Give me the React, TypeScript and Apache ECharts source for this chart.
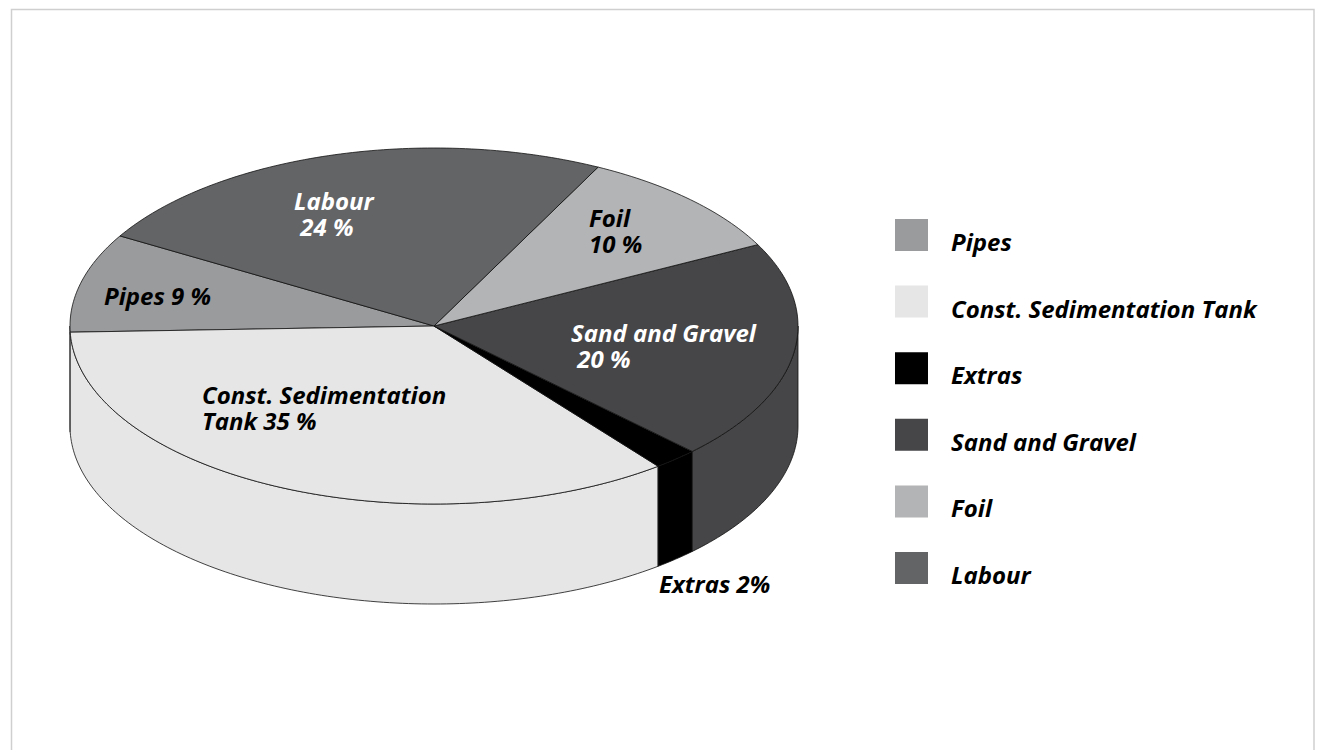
import React, { useEffect, useRef } from "react";
import * as echarts from "echarts";

// ---- data ----
const categories = [
  "Pipes",
  "Const. Sedimentation Tank",
  "Extras",
  "Sand and Gravel",
  "Foil",
  "Labour",
];
const shares = [9, 35, 2, 20, 10, 24];
const sliceLabels = [
  "Pipes 9 %",
  "Const. Sedimentation\nTank 35 %",
  "Extras 2%",
  "Sand and Gravel\n 20 %",
  "Foil\n10 %",
  "Labour\n 24 %",
];
const sliceColors = ["#9a9b9d", "#e6e6e6", "#000000", "#464648", "#b3b4b6", "#636466"];
const labelColors = ["#000000", "#000000", "#000000", "#ffffff", "#000000", "#ffffff"];

// ---- layout (not data) ----
const CX = 434;
const CY = 326;
const RX = 364;
const RY = 178;
const DEPTH = 100;
const START_DEG = 149.6;
const FONT = "'Open Sans', sans-serif";
const FONT_SIZE = 24;
const LINE_H = 26;
// label anchor: left x and vertical centre of first line, relative to pie centre
const labelAnchors: [number, number][] = [
  [-329, -32],
  [-231, 67],
  [226, 256],
  [138, 5],
  [156, -110],
  [-139, -127],
];

const total = shares.reduce((a, b) => a + b, 0);

function arcPoints(a0: number, a1: number, dy: number): number[][] {
  const pts: number[][] = [];
  const n = Math.max(2, Math.ceil(Math.abs(a1 - a0)) + 1);
  for (let k = 0; k < n; k++) {
    const t = ((a0 + ((a1 - a0) * k) / (n - 1)) * Math.PI) / 180;
    pts.push([CX + RX * Math.cos(t), CY - RY * Math.sin(t) + dy]);
  }
  return pts;
}

function makeRenderItem(idx: number) {
  return (_params: any, api: any) => {
    const value = api.value(0) as number;
    let before = 0;
    for (let i = 0; i < idx; i++) before += shares[i];
    const a0 = START_DEG + (before / total) * 360;
    const a1 = a0 + (value / total) * 360;
    const children: any[] = [];
    const stroke = { stroke: "#111111", lineWidth: 0.8, lineJoin: "round" };
    // front side wall
    const s0 = Math.max(a0, 180);
    const s1 = Math.min(a1, 360);
    if (s1 > s0) {
      const top = arcPoints(s0, s1, 0);
      const bottom = arcPoints(s1, s0, DEPTH);
      children.push({
        type: "polygon",
        shape: { points: top.concat(bottom) },
        style: { fill: sliceColors[idx], ...stroke },
      });
    }
    // top face
    children.push({
      type: "polygon",
      shape: { points: [[CX, CY]].concat(arcPoints(a0, a1, 0)) },
      style: { fill: sliceColors[idx], ...stroke },
    });
    // label
    const [dx, dy] = labelAnchors[idx];
    children.push({
      type: "text",
      x: CX + dx - 1,
      y: CY + dy - LINE_H / 2 + 1,
      style: {
        text: sliceLabels[idx],
        fill: labelColors[idx],
        font: `italic bold ${FONT_SIZE}px ${FONT}`,
        fontFamily: FONT,
        fontSize: FONT_SIZE,
        fontWeight: "bold",
        fontStyle: "italic",
        lineHeight: LINE_H,
        align: "left",
        verticalAlign: "top",
      },
    });
    return { type: "group", children };
  };
}

const option: any = {
  animation: false,
  backgroundColor: "#ffffff",
  legend: {
    orient: "vertical",
    left: 895,
    top: 219,
    padding: 0,
    data: categories,
    // square swatch in the upper part of a taller item box, so the text sits lower
    icon: "path://M0 0L33 0L33 32L0 32Z M0 45L0.01 45L0.01 45.01Z",
    itemWidth: 33,
    itemHeight: 45,
    itemGap: 21.6,
    itemStyle: { borderWidth: 0 },
    selectedMode: false,
    textStyle: {
      fontFamily: FONT,
      fontSize: FONT_SIZE,
      fontWeight: "bold",
      fontStyle: "italic",
      color: "#000000",
      padding: [0, 0, 0, 18],
    },
  },
  graphic: [
    {
      type: "rect",
      silent: true,
      shape: { x: 11.5, y: 9.5, width: 1302.5, height: 800 },
      style: { fill: "none", stroke: "#cfcfcf", lineWidth: 1.5 },
    },
  ],
  series: categories.map((name, idx) => ({
    type: "custom",
    name,
    coordinateSystem: "none",
    itemStyle: { color: sliceColors[idx] },
    data: [[shares[idx]]],
    renderItem: makeRenderItem(idx),
  })),
};

export default function App() {
  const ref = useRef<HTMLDivElement>(null);
  useEffect(() => {
    const chart = echarts.init(ref.current!, null, { renderer: "svg" });
    chart.setOption(option);
    return () => chart.dispose();
  }, []);
  return (
    <div
      ref={ref}
      style={{ position: "absolute", left: 0, top: 0, width: 1322, height: 750 }}
    />
  );
}
